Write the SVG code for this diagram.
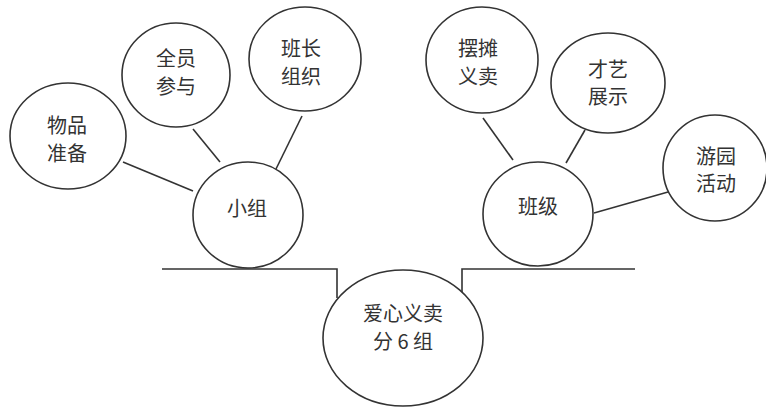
<svg xmlns="http://www.w3.org/2000/svg" width="766" height="408" viewBox="0 0 766 408">
<style>
.n{fill:#fff;stroke:#333;stroke-width:1.6}
.c{stroke:#333;stroke-width:1.6;fill:none}
text{font-family:"Noto Sans CJK SC","Noto Sans",sans-serif;font-size:20px;fill:#333;text-anchor:middle;dominant-baseline:central}
</style>
<rect width="766" height="408" fill="#fff"/>
<g id="connectors">
<line class="c" x1="123" y1="162" x2="193" y2="191"/>
<line class="c" x1="193" y1="129" x2="220" y2="162"/>
<line class="c" x1="302" y1="116" x2="276" y2="169"/>
<line class="c" x1="483" y1="118" x2="513" y2="160"/>
<line class="c" x1="585" y1="130" x2="566" y2="163"/>
<line class="c" x1="668" y1="192" x2="594" y2="213"/>
<polyline class="c" points="162,269 337,269 337,298"/>
<polyline class="c" points="462,298 462,269 635,269"/>
</g>
<g id="n-wupin"><ellipse class="n" cx="68" cy="136" rx="58" ry="53"/><text x="67" y="124">物品</text><text x="67" y="152">准备</text></g>
<g id="n-quanyuan"><ellipse class="n" cx="176" cy="75" rx="54" ry="52"/><text x="176" y="57">全员</text><text x="176" y="85">参与</text></g>
<g id="n-banzhang"><ellipse class="n" cx="305" cy="59" rx="56" ry="52"/><text x="301" y="47">班长</text><text x="301" y="75">组织</text></g>
<g id="n-xiaozu"><ellipse class="n" cx="248" cy="215" rx="55" ry="53"/><text x="247" y="207">小组</text></g>
<g id="n-baitan"><ellipse class="n" cx="482" cy="60" rx="56" ry="53"/><text x="478" y="47">摆摊</text><text x="478" y="75">义卖</text></g>
<g id="n-caiyi"><ellipse class="n" cx="608" cy="83" rx="57" ry="50"/><text x="608" y="68">才艺</text><text x="608" y="95">展示</text></g>
<g id="n-youyuan"><ellipse class="n" cx="715" cy="168" rx="52" ry="53"/><text x="716" y="155">游园</text><text x="716" y="182">活动</text></g>
<g id="n-banji"><ellipse class="n" cx="538" cy="214" rx="55" ry="52"/><text x="538" y="205">班级</text></g>
<g id="n-root"><ellipse class="n" cx="403" cy="338" rx="80" ry="68"/><text x="403" y="312">爱心义卖</text><text x="403" y="340">分 6 组</text></g>
</svg>
